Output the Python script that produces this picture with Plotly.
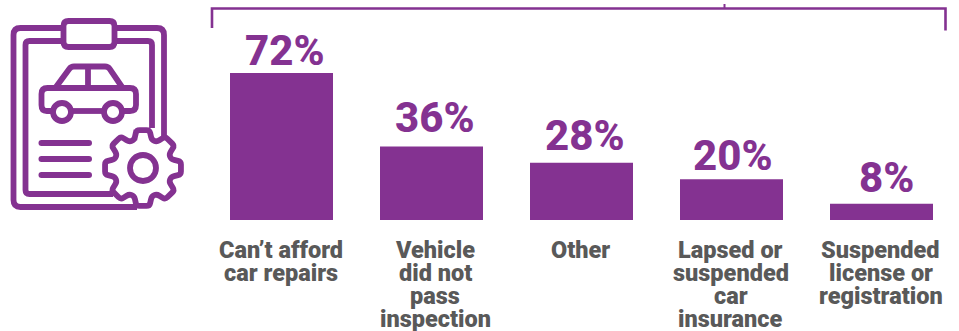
import math
import plotly.graph_objects as go

# Reasons for not getting a car fixed, share of respondents
categories = ["Can’t afford car repairs", "Vehicle did not pass inspection", "Other",
              "Lapsed or suspended car insurance", "Suspended license or registration"]
category_lines = [
    ["Can’t afford", "car repairs"],
    ["Vehicle", "did not", "pass", "inspection"],
    ["Other"],
    ["Lapsed or", "suspended", "car", "insurance"],
    ["Suspended", "license or", "registration"],
]
values = [72, 36, 28, 20, 8]

# Hand placement of the labels relative to their bars, in pixels
label_lift = [7.3, 13.5, 12, 8, 10.7]
label_nudge = [3, 3, 3, 1.5, 4.5]
category_nudge = [-1, 3.5, -1, -1, -1]

PURPLE = "#843291"
GREY = "#595959"
W, H = 959, 331


def px(x):
    return x / W


def py(y):
    return 1 - y / H


def path(points, close=False):
    """Polyline in pixel coordinates, converted to paper coordinates."""
    cmds = [f"{'M' if i == 0 else 'L'} {px(x):.5f} {py(y):.5f}" for i, (x, y) in enumerate(points)]
    return " ".join(cmds) + (" Z" if close else "")


def rounded(x0, y0, x1, y1, r):
    """Closed rounded rectangle."""
    k = lambda x, y: f"{px(x):.5f} {py(y):.5f}"
    return (f"M {k(x0 + r, y0)} L {k(x1 - r, y0)} Q {k(x1, y0)} {k(x1, y0 + r)} "
            f"L {k(x1, y1 - r)} Q {k(x1, y1)} {k(x1 - r, y1)} L {k(x0 + r, y1)} "
            f"Q {k(x0, y1)} {k(x0, y1 - r)} L {k(x0, y0 + r)} Q {k(x0, y0)} {k(x0 + r, y0)} Z")


def open_round(points, r):
    """Open polyline whose corners are softened with quadratic curves."""
    k = lambda p: f"{px(p[0]):.5f} {py(p[1]):.5f}"
    out = "M " + k(points[0])
    for a, b, c in zip(points, points[1:], points[2:]):
        def towards(p, q):
            d = math.dist(p, q)
            t = min(r, d / 2) / d
            return (p[0] + (q[0] - p[0]) * t, p[1] + (q[1] - p[1]) * t)
        out += f" L {k(towards(b, a))} Q {k(b)} {k(towards(b, c))}"
    return out + " L " + k(points[-1])


def stroke(d, width=5.8):
    return dict(type="path", xref="paper", yref="paper", path=d,
                line=dict(color=PURPLE, width=width), fillcolor="rgba(0,0,0,0)", layer="above")


def solid(d):
    return dict(type="path", xref="paper", yref="paper", path=d,
                line=dict(width=0), fillcolor=PURPLE, layer="above")


def ring(cx, cy, r, width=5.8):
    return dict(type="circle", xref="paper", yref="paper",
                x0=px(cx - r), x1=px(cx + r), y0=py(cy + r), y1=py(cy - r),
                line=dict(color=PURPLE, width=width), fillcolor="white", layer="above")


shapes = []

# Bracket above the bars
shapes.append(dict(type="path", xref="paper", yref="paper",
                   path=path([(212, 28), (212, 8.5), (945.5, 8.5), (945.5, 30.5)]),
                   line=dict(color=PURPLE, width=2.6), fillcolor="rgba(0,0,0,0)", layer="above"))
shapes.append(dict(type="path", xref="paper", yref="paper", path=path([(724.5, 4), (724.5, 8)]),
                   line=dict(color=PURPLE, width=2), layer="above"))

# Clipboard outline, left open where the clip and the gear sit
shapes.append(stroke(open_round([(63, 28), (13.5, 28), (13.5, 207), (137, 207)], 7)))
shapes.append(stroke(open_round([(116, 28), (164, 28), (164, 138)], 7)))
shapes.append(stroke(open_round([(61, 41), (25.5, 41), (25.5, 194), (113, 194)], 4)))
shapes.append(stroke(open_round([(117, 41), (152, 41), (152, 128)], 4)))
shapes.append(stroke(rounded(63.5, 21, 114.5, 47, 5)))

# Car: cabin, pillar, body and wheels
shapes.append(stroke(open_round([(56, 87), (71, 66.5), (108, 66.5), (122, 87)], 3)))
shapes.append(stroke(path([(88, 66), (88, 86)])))
shapes.append(stroke(open_round([(52, 111), (41.5, 111), (41.5, 88), (136, 88), (136, 111), (124, 111)], 6)))
shapes.append(stroke(path([(72, 111), (103, 111)])))
shapes.append(ring(62, 112, 9))
shapes.append(ring(113, 112, 9))

# Text rows on the clipboard
for row_y in (143, 159, 175):
    shapes.append(solid(rounded(38.5, row_y - 3, 92, row_y + 3, 3)))

# Eight-toothed gear
gx, gy = 143, 168
gear_points = []
for i in range(8):
    a = i * math.pi / 4 - math.pi / 2
    for da, r in ((-0.30, 29.5), (-0.17, 38.5), (0.17, 38.5), (0.30, 29.5)):
        gear_points.append((gx + r * math.cos(a + da), gy + r * math.sin(a + da)))
gear_points.append(gear_points[0])
gear_points.append(gear_points[1])
shapes.append(stroke(open_round(gear_points, 3)))
shapes.append(ring(gx, gy, 13))

annotations = []

# Wrapped category labels, one annotation per line
for cat, lines, nudge in zip(categories, category_lines, category_nudge):
    for i, line in enumerate(lines):
        annotations.append(dict(x=cat, xref="x", y=py(249.7 + 23 * i), yref="paper",
                                text=line, showarrow=False, xanchor="center", yanchor="middle",
                                xshift=nudge,
                                font=dict(family="Roboto", size=23.5, color=GREY, weight=900)))

# Percentage above each bar
for cat, v, lift, nudge in zip(categories, values, label_lift, label_nudge):
    annotations.append(dict(x=cat, xref="x", y=v, yref="y", text=f"{v}%", showarrow=False,
                            xanchor="center", yanchor="bottom", xshift=nudge, yshift=lift - 11,
                            font=dict(family="Roboto", size=42, color=PURPLE, weight=800)))

fig = go.Figure(go.Bar(
    x=categories, y=values,
    marker=dict(color=PURPLE, line=dict(width=0)),
    hoverinfo="skip",
))

fig.update_layout(
    width=W, height=H,
    margin=dict(l=0, r=0, t=0, b=0),
    paper_bgcolor="white", plot_bgcolor="white",
    bargap=47 / 150,
    showlegend=False,
    shapes=shapes,
    annotations=annotations,
    xaxis=dict(domain=[px(206.5), px(956.5)], range=[-0.5, 4.5], type="category",
               categoryorder="array", categoryarray=categories,
               showticklabels=False, showgrid=False, zeroline=False, showline=False, ticks=""),
    # 72% spans 147 px of the 220 px from the top edge to the baseline
    yaxis=dict(domain=[py(220), 1], range=[0, 220 * 72 / 147], showticklabels=False,
               showgrid=False, zeroline=False, showline=False, ticks=""),
)

fig.write_html("out.html", config={"displayModeBar": False})
